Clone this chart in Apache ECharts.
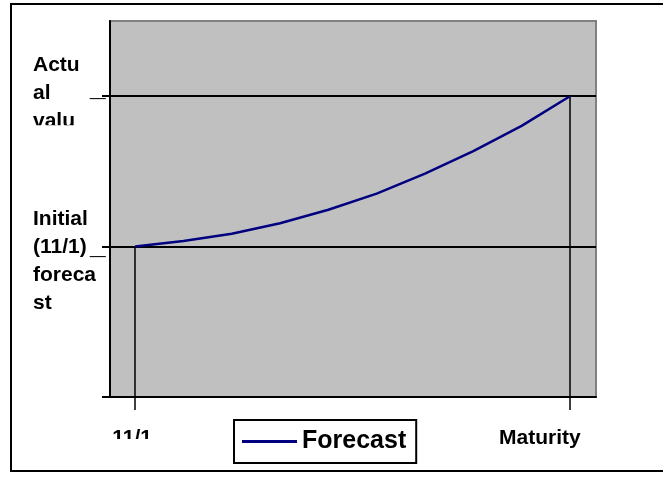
<!DOCTYPE html>
<html>
<head>
<meta charset="utf-8">
<script src="https://cdn.jsdelivr.net/npm/echarts@6/dist/echarts.min.js"></script>
<style>
  html, body { margin: 0; padding: 0; background: #fff; }
  #chart { width: 663px; height: 478px; }
</style>
</head>
<body>
<div id="chart"></div>
<script>
// Forecast path from the 11/1 estimate up to the value realised at maturity
const stepIndex = [0, 1, 2, 3, 4, 5, 6, 7, 8, 9];
const forecastValues = [40, 41.5, 43.4, 46.2, 49.8, 54.1, 59.4, 65.4, 72.1, 80];
const initialForecast = 40;
const actualValue = 80;
const seriesName = 'Forecast';
const xTickValues = [0, 9];
const xTickLabels = ['11/1', 'Maturity'];
const yTickValues = [0, 40, 80];
const initialLabelLines = ['Initial', '(11/1)', 'foreca', 'st'];
const actualLabelLines = ['Actu', 'al', 'valu'];

const FONT = '"Liberation Sans", Arial, sans-serif';
const NAVY = '#000080';
const chart = echarts.init(document.getElementById('chart'), null, { renderer: 'canvas' });

chart.setOption({
  animation: false,
  grid: {
    left: 110, top: 21, width: 486, height: 376,
    show: true, backgroundColor: '#c0c0c0', borderColor: '#808080', borderWidth: 2
  },
  xAxis: {
    type: 'value', min: -0.52, max: 9.54,
    splitLine: { show: false },
    axisLine: { onZero: false, lineStyle: { color: '#000', width: 2 } },
    axisTick: { show: true, inside: false, length: 13, customValues: xTickValues, lineStyle: { color: '#000', width: 1.5 } },
    axisLabel: { show: false }
  },
  yAxis: {
    type: 'value', min: 0, max: 100,
    splitLine: { show: false },
    axisLine: { onZero: false, lineStyle: { color: '#000', width: 2 } },
    axisTick: { show: true, inside: false, length: 8, customValues: yTickValues, lineStyle: { color: '#000', width: 2 } },
    axisLabel: { show: false }
  },
  legend: {
    data: [{ name: seriesName, icon: 'rect' }],
    left: 234, top: 420,
    selectedMode: false,
    backgroundColor: '#fff',
    borderColor: '#000', borderWidth: 2, borderRadius: 0,
    padding: [9, 10, 9, 8],
    itemWidth: 55, itemHeight: 3,
    itemStyle: { color: NAVY, borderWidth: 0 },
    textStyle: { fontFamily: FONT, fontWeight: 'bold', fontSize: 25, color: '#000', lineHeight: 25 }
  },
  series: [{
    name: seriesName,
    type: 'line',
    data: stepIndex.map((x, i) => [x, forecastValues[i]]),
    symbol: 'none',
    lineStyle: { color: NAVY, width: 2.5 },
    itemStyle: { color: NAVY },
    z: 3,
    markLine: {
      silent: true,
      symbol: 'none',
      label: { show: false },
      z: 2,
      data: [
        { yAxis: initialForecast, lineStyle: { color: '#000', width: 2, type: 'solid' } },
        { yAxis: actualValue, lineStyle: { color: '#000', width: 2, type: 'solid' } },
        [{ coord: [xTickValues[0], initialForecast], lineStyle: { color: '#000', width: 1.5, type: 'solid' } }, { coord: [xTickValues[0], 0] }],
        [{ coord: [xTickValues[1], actualValue], lineStyle: { color: '#000', width: 1.5, type: 'solid' } }, { coord: [xTickValues[1], 0] }]
      ]
    }
  }]
});

// Axis captions placed from the axis scales
const px = (x, y) => chart.convertToPixel({ gridIndex: 0 }, [x, y]);
const yInit = px(0, initialForecast)[1];
const yAct = px(0, actualValue)[1];
const xStart = px(xTickValues[0], 0)[0];
const xEnd = px(xTickValues[1], 0)[0];
const yBase = px(0, 0)[1];

const labelStyle = (text, x, y, align) => ({
  text, x, y, fill: '#000', fontFamily: FONT, fontWeight: 'bold', fontSize: 21,
  lineHeight: 28, textAlign: align || 'left', textVerticalAlign: 'middle'
});

chart.setOption({
  graphic: [
    // outer chart frame
    { type: 'rect', z: 100, silent: true, shape: { x: 11, y: 4, width: 700, height: 467 },
      style: { fill: 'none', stroke: '#000', lineWidth: 2 } },
    { type: 'text', z: 101, style: labelStyle(actualLabelLines.join('\n'), 33, yAct - 3) },
    { type: 'rect', z: 102, silent: true, shape: { x: 28, y: yAct + 29, width: 70, height: 14 },
      style: { fill: '#fff' } },
    { type: 'text', z: 101, style: labelStyle(initialLabelLines.join('\n'), 33, yInit + 15) },
    { type: 'text', z: 101, style: Object.assign(labelStyle('_', 90, yAct - 8), { fontSize: 28 }) },
    { type: 'text', z: 101, style: Object.assign(labelStyle('_', 90, yInit), { fontSize: 28 }) },
    { type: 'text', z: 101, style: labelStyle(xTickLabels[0], xStart - 3, yBase + 41, 'center') },
    { type: 'rect', z: 102, silent: true, shape: { x: xStart - 30, y: yBase + 42, width: 60, height: 14 },
      style: { fill: '#fff' } },
    { type: 'text', z: 101, style: labelStyle(xTickLabels[1], xEnd - 30, yBase + 41, 'center') }
  ]
});
</script>
</body>
</html>
